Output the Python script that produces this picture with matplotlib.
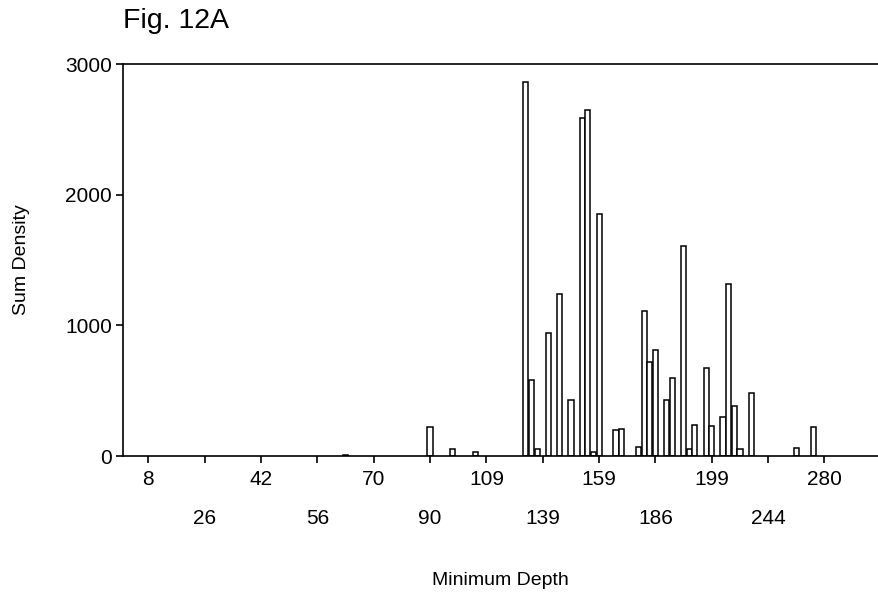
import matplotlib
matplotlib.use("Agg")
import matplotlib.pyplot as plt

matplotlib.rcParams['font.family'] = ['Liberation Sans', 'DejaVu Sans']

# category index (position along the depth axis) and summed density
bar_idx = [39, 54, 58, 62, 71, 72, 73, 75, 77, 79, 81, 82, 83, 84,
           87, 88, 91, 92, 93, 94, 96, 97, 99, 100, 101, 103, 104,
           106, 107, 108, 109, 111, 119, 122]
density = [10, 220, 52, 32, 2860, 580, 50, 940, 1240, 430, 2585, 2650, 30, 1850,
           200, 205, 70, 1110, 720, 815, 428, 600, 1610, 50, 236, 672, 230,
           298, 1315, 385, 50, 480, 58, 225]

tick_idx = [4, 14, 24, 34, 44, 54, 64, 74, 84, 94, 104, 114, 124]
tick_lab = ['8', '26', '42', '56', '70', '90', '109', '139', '159', '186', '199', '244', '280']
n_cat = 134

fig = plt.figure(figsize=(8.79, 5.97), dpi=100)
ax = fig.add_axes([123 / 879, (597 - 456) / 597, 755 / 879, 392 / 597])

ax.bar(bar_idx, density, width=0.92, color='white', edgecolor='black', linewidth=1.1)

ax.set_xlim(-0.5, n_cat - 0.5)
ax.set_ylim(0, 3000)
ax.set_yticks([0, 1000, 2000, 3000])
ax.set_xticks(tick_idx)
ax.set_xticklabels(tick_lab)
ax.tick_params(axis='both', labelsize=15, length=5, width=1.2, direction='out')
ax.tick_params(axis='y', pad=3)

# staggered labels: every second one goes to the lower row
for i, t in enumerate(ax.xaxis.get_major_ticks()):
    t.set_pad(5 if i % 2 == 0 else 33)

for s in ax.spines.values():
    s.set_linewidth(1.2)
ax.spines['right'].set_linewidth(0.6)
ax.spines['right'].set_color('#999999')

ax.set_ylabel("Sum Density", fontsize=14, labelpad=25)
ax.set_xlabel("Minimum Depth", fontsize=14, labelpad=32)
fig.text(123 / 879, 1 - 21 / 597, "Fig. 12A", fontsize=20.5, va='center', ha='left')

fig.savefig("out.png", dpi=100)
